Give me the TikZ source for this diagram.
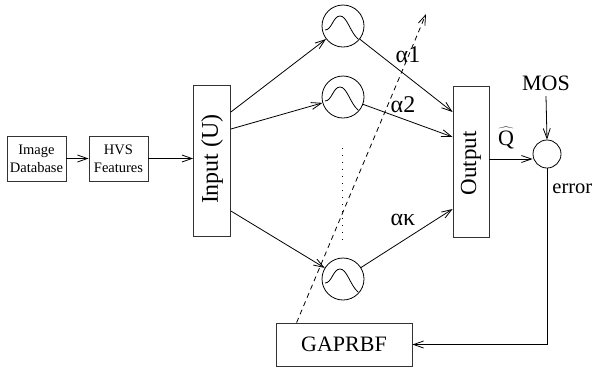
\documentclass[tikz,border=0pt]{standalone}
\usepackage{fontspec}
\setmainfont{Liberation Serif}
\usetikzlibrary{arrows.meta,calc}

\tikzset{
  every picture/.style={line width=0.8pt},
  conn/.style={-{Straight Barb[length=10pt,width=7pt,line width=0.8pt]}},
  smallbox/.style={draw=black!80, minimum width=59pt, minimum height=45pt,
    inner sep=0pt, align=center, font=\fontsize{14.5}{18}\selectfont},
  tallbox/.style={draw=black!80, minimum width=37pt, minimum height=151pt, inner sep=0pt},
  rbf/.style={draw, circle, minimum size=42pt, inner sep=0pt},
  biglabel/.style={font=\fontsize{22}{25}\selectfont, inner sep=0pt},
  bump/.style={line width=0.8pt},
}

\begin{document}
\begin{tikzpicture}[x=1pt,y=-1pt]
\useasboundingbox (0,0) rectangle (594,368);

% feature extraction chain
\node[smallbox] (imgdb) at (36.5,158.5) {Image\\Database};
\node[smallbox] (hvs) at (118.5,158.5) {HVS\\Features};

% input and output layers
\node[tallbox] (input) at (212,161) {};
\node[rotate=90, biglabel, font=\fontsize{24}{26}\selectfont] (inlbl) at (212,159) {Input (U)};
\node[tallbox, minimum width=36pt] (output) at (471,161.5) {};
\node[rotate=90, biglabel, font=\fontsize{23}{26}\selectfont] (outlbl) at (471,163.5) {Output};

% radial basis units
\node[rbf] (g1) at (343,26) {};
\node[rbf] (g2) at (343,97) {};
\node[rbf] (g3) at (343,279) {};
\foreach \g in {g1,g2,g3}{
  \draw[bump] ($(\g)+(-18,4)$) .. controls ($(\g)+(-11,4)$) and ($(\g)+(-10,-10)$) ..
    ($(\g)+(-3,-10)$) .. controls ($(\g)+(4,-10)$) and ($(\g)+(7,6)$) .. ($(\g)+(15,13)$);
}

% error node and training block
\node[draw, circle, minimum size=28pt, inner sep=0pt] (sum) at (547,154) {};
\node[biglabel] (mos) at (546,83) {MOS};
\node[biglabel, font=\fontsize{20.5}{24}\selectfont, anchor=base west] (err) at (552,193) {error};
\node[draw=black!80, minimum width=136pt, minimum height=43pt, inner sep=0pt,
      font=\fontsize{22}{25}\selectfont] (gaprbf) at (344,344.5) {GAPRBF};

% weight labels
\node[biglabel, font=\fontsize{24}{26}\selectfont] (a1) at (408,55) {α1};
\node[biglabel, font=\fontsize{24}{26}\selectfont] (a2) at (403,105) {α2};
\node[biglabel, font=\fontsize{24}{26}\selectfont] (ak) at (403,220) {ακ};
\node[biglabel] (qhat) at (506,138) {$\widehat{\mbox{Q}}$};

% anchor points on the layer boxes
\coordinate (in1) at (input.east |- 0,112);
\coordinate (in2) at (input.east |- 0,129);
\coordinate (in3) at (input.east |- 0,211);
\coordinate (out1) at (output.west |- 0,112);
\coordinate (out2) at (output.west |- 0,137);
\coordinate (out3) at (output.west |- 0,209);
\coordinate (outq) at (output.east |- 0,159);
\coordinate (dtop) at (426,14);
\coordinate (dbot) at ($(gaprbf.north west)+(21,0)$);
\coordinate (dots1) at (342,148);
\coordinate (dots2) at (342,240);

% connectors
\draw[conn] (imgdb) -- (hvs);
\draw[conn] (hvs.east) -- (hvs.east -| input.west);
\draw[conn] (in1) -- (g1);
\draw[conn] (in2) -- (g2);
\draw[conn] (in3) -- (g3);
\draw[conn] (g1) -- (out1);
\draw[conn] (g2) -- (out2);
\draw[conn] (g3) -- (out3);
\draw[conn] (outq) -- (outq -| sum.west);
\draw[conn] (mos.south |- 0,96) -- (sum.north);
\draw[conn] (sum.south) |- (gaprbf.east);
\draw[conn, dashed, dash pattern=on 5pt off 4pt] (dbot) -- (dtop);
\draw[line width=1pt, dash pattern=on 1pt off 6pt] (dots1) -- (dots2);
\end{tikzpicture}
\end{document}
